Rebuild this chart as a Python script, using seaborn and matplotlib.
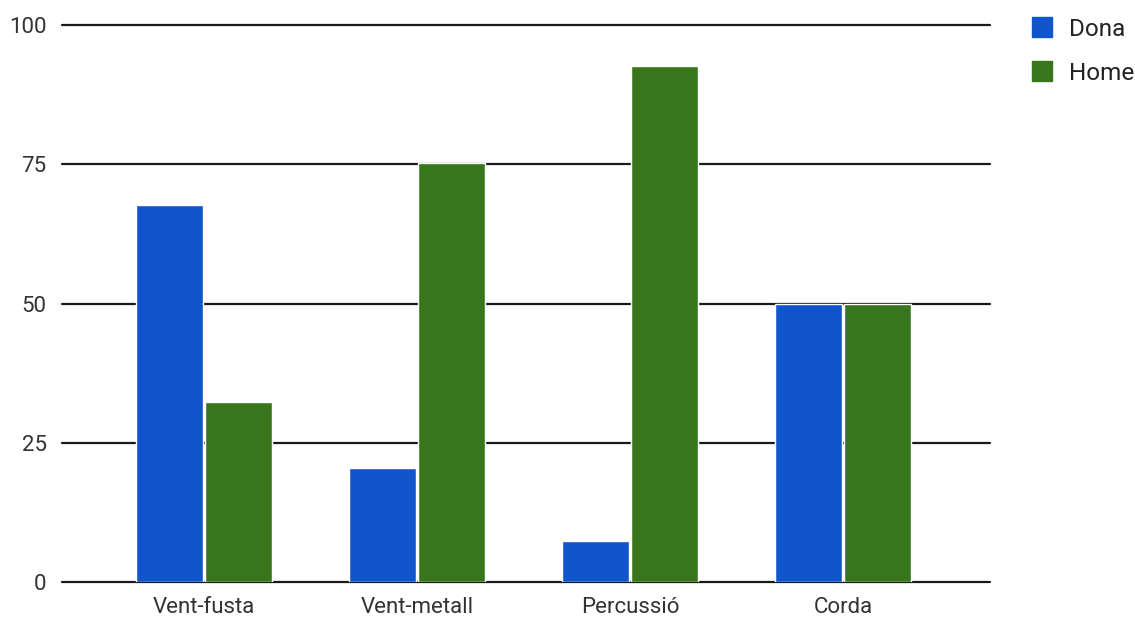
import matplotlib
matplotlib.use("Agg")
import matplotlib.pyplot as plt
from matplotlib.lines import Line2D
import seaborn as sns
import pandas as pd

categories = ["Vent-fusta", "Vent-metall", "Percussió", "Corda"]
dona = [67.7, 20.4, 7.4, 50.0]
home = [32.3, 75.3, 92.6, 50.0]
series_names = ["Dona", "Home"]
y_ticks = [0, 25, 50, 75, 100]

colors = {"Dona": "#1155CC", "Home": "#38761D"}

df = pd.DataFrame({
    "Instrument": categories * 2,
    "Valor": dona + home,
    "Sexe": [series_names[0]] * len(categories) + [series_names[1]] * len(categories),
})

sns.set_theme(style="white")
plt.rcParams["font.family"] = ["Roboto", "DejaVu Sans"]

fig = plt.figure(figsize=(11.35, 6.18), dpi=100)
ax = fig.add_axes([62 / 1135, 1 - 582 / 618, (990 - 62) / 1135, (582 - 25) / 618])

sns.barplot(data=df, x="Instrument", y="Valor", hue="Sexe", order=categories,
            hue_order=series_names, palette=colors, width=0.65, gap=0.03,
            saturation=1, ax=ax, legend=False, zorder=3)

ax.set_xlim(-0.667, 3.69)
ax.set_ylim(0, 100)
ax.set_yticks(y_ticks)
ax.set_yticklabels([str(t) for t in y_ticks])
for t in y_ticks:
    ax.axhline(t, color="#1a1a1a", lw=1.6, zorder=2, clip_on=False)

for s in ax.spines.values():
    s.set_visible(False)
ax.set_xlabel("")
ax.set_ylabel("")
ax.tick_params(axis="both", length=0, labelsize=16, labelcolor="#333333")
ax.tick_params(axis="y", pad=11)
ax.tick_params(axis="x", pad=10.5)

handles = [Line2D([], [], marker="s", linestyle="", markersize=15,
                  markerfacecolor=colors[n], markeredgecolor=colors[n]) for n in series_names]
fig.legend(handles, series_names, loc="upper left", bbox_to_anchor=(1008 / 1135, 1 + 4 / 618),
           frameon=False, fontsize=17.5, labelcolor="#222222", handlelength=1.0,
           handletextpad=0.6, labelspacing=0.85, borderaxespad=0.5)

fig.savefig("out.png", dpi=100, facecolor="white")
